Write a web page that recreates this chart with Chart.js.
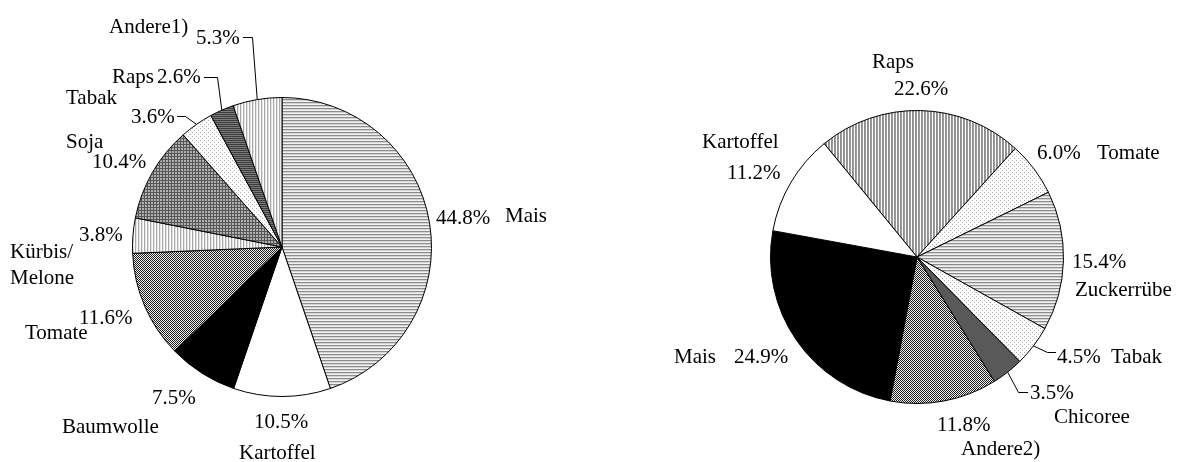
<!DOCTYPE html>
<html>
<head>
<meta charset="utf-8">
<script src="https://cdn.jsdelivr.net/npm/chart.js@4.4.0/dist/chart.umd.min.js"></script>
<style>
  html, body { margin: 0; padding: 0; background: #fff; }
  #wrap { position: relative; width: 1177px; height: 462px; }
  #wrap canvas { position: absolute; left: 0; top: 0; }
</style>
</head>
<body>
<div id="wrap">
  <canvas id="left" width="1177" height="462"></canvas>
  <canvas id="right" width="1177" height="462"></canvas>
</div>
<script>
// left pie (clockwise from 12 o'clock)
const leftCrops = ['Mais', 'Kartoffel', 'Baumwolle', 'Tomate', 'Kürbis/\nMelone', 'Soja', 'Tabak', 'Raps', 'Andere1)'];
const leftShares = [44.8, 10.5, 7.5, 11.6, 3.8, 10.4, 3.6, 2.6, 5.3];

// right pie (clockwise, starting with Raps)
const rightCrops = ['Raps', 'Tomate', 'Zuckerrübe', 'Tabak', 'Chicoree', 'Andere2)', 'Mais', 'Kartoffel'];
const rightShares = [22.6, 6.0, 15.4, 4.5, 3.5, 11.8, 24.9, 11.2];

// fill patterns
function pattern(w, h, draw) {
  const c = document.createElement('canvas');
  c.width = w; c.height = h;
  const g = c.getContext('2d');
  draw(g);
  return g.createPattern(c, 'repeat');
}
function rows(colors) {
  return pattern(1, colors.length, g => colors.forEach((c, i) => { g.fillStyle = c; g.fillRect(0, i, 1, 1); }));
}
function cols(colors) {
  return pattern(colors.length, 1, g => colors.forEach((c, i) => { g.fillStyle = c; g.fillRect(i, 0, 1, 1); }));
}
const P = {
  hstripe: rows(['#8c8c8c', '#d4d4d4', '#f2f2f2']),
  vstripe: cols(['#a8a8a8', '#e6e6e6', '#ffffff']),
  vstripeDark: cols(['#8f8f8f', '#9a9a9a', '#ffffff']),
  darkStripe: rows(['#3c3c3c', '#7a7a7a']),
  grid: pattern(3, 3, g => {
    g.fillStyle = '#b0b0b0'; g.fillRect(0, 0, 3, 3);
    g.fillStyle = '#555'; g.fillRect(0, 0, 3, 1); g.fillRect(0, 0, 1, 3);
  }),
  dots: pattern(4, 4, g => {
    g.fillStyle = '#fff'; g.fillRect(0, 0, 4, 4);
    g.fillStyle = '#b4b4b4'; g.fillRect(0, 0, 1, 1); g.fillRect(2, 2, 1, 1);
  }),
  checker: pattern(2, 2, g => {
    g.fillStyle = '#f0f0f0'; g.fillRect(0, 0, 2, 2);
    g.fillStyle = '#1e1e1e'; g.fillRect(0, 0, 1, 1); g.fillRect(1, 1, 1, 1);
  }),
  black: '#000',
  white: '#fff',
  darkgray: '#595959'
};

const leftFills = [P.hstripe, P.white, P.black, P.checker, P.vstripe, P.grid, P.dots, P.darkStripe, P.vstripe];
const rightFills = [P.vstripeDark, P.dots, P.hstripe, P.dots, P.darkgray, P.checker, P.black, P.white];

// label layout: [x, y] of the name and of the percentage (left edge, vertical centre), optional leader points
const leftLayout = [
  { name: [505, 216], pct: [436, 218] },
  { name: [239, 453], pct: [254, 422] },
  { name: [62, 427], pct: [152, 398] },
  { name: [25, 333], pct: [79, 318] },
  { name: [10, 252], pct: [79, 235] },
  { name: [66, 142], pct: [92, 162] },
  { name: [66, 98], pct: [131, 117], leader: [[177, 116], [185, 116]] },
  { name: [112, 77], pct: [157, 77], leader: [[204, 77], [217, 77]] },
  { name: [109, 27], pct: [196, 38], leader: [[243, 37], [252, 37]] }
];
const rightLayout = [
  { name: [872, 62], pct: [894, 89] },
  { name: [1097, 153], pct: [1037, 153] },
  { name: [1075, 290], pct: [1072, 262] },
  { name: [1111, 357], pct: [1057, 357], leader: [[1056, 352], [1047, 352]] },
  { name: [1054, 417], pct: [1030, 393], leader: [[1028, 392], [1018, 392]] },
  { name: [961, 449], pct: [937, 425] },
  { name: [674, 357], pct: [734, 357] },
  { name: [702, 142], pct: [727, 173] }
];

const FONT = '21px "Liberation Serif", "Times New Roman", serif';

const labelPlugin = {
  id: 'sliceLabels',
  afterDraw(chart) {
    const ctx = chart.ctx;
    const layout = chart.options.plugins.sliceLabels.layout;
    const meta = chart.getDatasetMeta(0);
    const ds = chart.data.datasets[0];
    ctx.save();
    ctx.font = FONT;
    ctx.fillStyle = '#000';
    ctx.textAlign = 'left';
    ctx.textBaseline = 'middle';
    chart.data.labels.forEach((label, i) => {
      const L = layout[i];
      const lines = label.split('\n');
      lines.forEach((t, k) => ctx.fillText(t, L.name[0], L.name[1] + k * 26));
      ctx.fillText(ds.data[i].toFixed(1) + '%', L.pct[0], L.pct[1]);
      if (L.leader) {
        const arc = meta.data[i];
        const mid = (arc.startAngle + arc.endAngle) / 2;
        ctx.beginPath();
        ctx.strokeStyle = '#000';
        ctx.lineWidth = 1;
        ctx.moveTo(L.leader[0][0], L.leader[0][1] + 0.5);
        L.leader.slice(1).forEach(p => ctx.lineTo(p[0] + 0.5, p[1] + 0.5));
        ctx.lineTo(arc.x + Math.cos(mid) * arc.outerRadius, arc.y + Math.sin(mid) * arc.outerRadius);
        ctx.stroke();
      }
    });
    ctx.restore();
  }
};

function makePie(id, labels, values, fills, layout, rotation, padding) {
  return new Chart(document.getElementById(id), {
    type: 'pie',
    data: {
      labels: labels,
      datasets: [{
        data: values,
        backgroundColor: fills,
        borderColor: '#000',
        borderWidth: 1
      }]
    },
    options: {
      responsive: false,
      devicePixelRatio: 1,
      animation: false,
      rotation: rotation,
      layout: { padding: padding },
      events: [],
      plugins: {
        legend: { display: false },
        tooltip: { enabled: false },
        sliceLabels: { layout: layout }
      }
    },
    plugins: [labelPlugin]
  });
}

makePie('left', leftCrops, leftShares, leftFills, leftLayout, 0,
  { left: 132, right: 745, top: 97, bottom: 65 });
makePie('right', rightCrops, rightShares, rightFills, rightLayout, -39.3,
  { left: 770, right: 113, top: 110, bottom: 58 });
</script>
</body>
</html>
